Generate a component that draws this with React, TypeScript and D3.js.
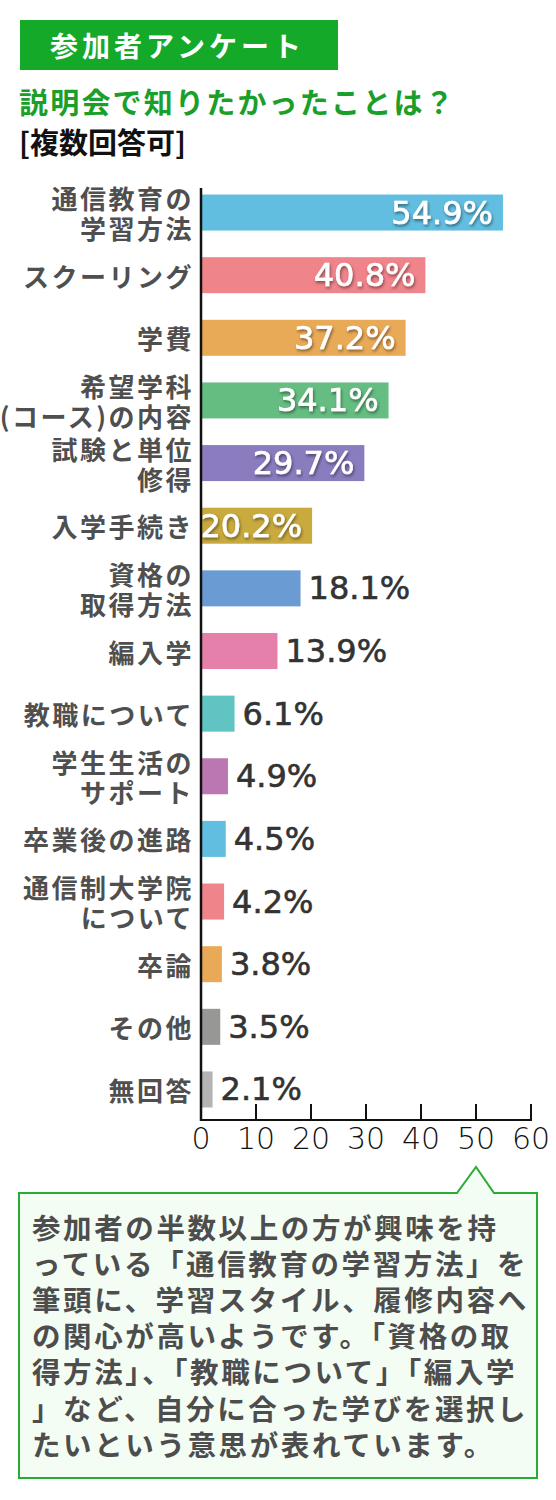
import React from "react";
import { scaleBand, scaleLinear } from "d3";

// survey answers, top to bottom
const categories: string[][] = [
  ["通信教育の", "学習方法"],
  ["スクーリング"],
  ["学費"],
  ["希望学科", "(コース)の内容"],
  ["試験と単位", "修得"],
  ["入学手続き"],
  ["資格の", "取得方法"],
  ["編入学"],
  ["教職について"],
  ["学生生活の", "サポート"],
  ["卒業後の進路"],
  ["通信制大学院", "について"],
  ["卒論"],
  ["その他"],
  ["無回答"],
];
const values = [54.9, 40.8, 37.2, 34.1, 29.7, 20.2, 18.1, 13.9, 6.1, 4.9, 4.5, 4.2, 3.8, 3.5, 2.1];
const colors = [
  "#62bee1", "#f0848b", "#e9aa58", "#65bd82", "#8a7cbe", "#c9aa3f", "#6a9bd3", "#e580aa",
  "#60c4c2", "#ba77b1", "#62bee1", "#f0848b", "#e9aa58", "#979896", "#b4b4b4",
];
const xTicks = [0, 10, 20, 30, 40, 50, 60];

const title = "参加者アンケート";
const question = "説明会で知りたかったことは？";
const note = "[複数回答可]";
const comment = [
  "参加者の半数以上の方が興味を持",
  "っている「通信教育の学習方法」を",
  "筆頭に、学習スタイル、履修内容へ",
  "の関心が高いようです。「資格の取",
  "得方法」、「教職について」「編入学",
  "」など、自分に合った学びを選択し",
  "たいという意思が表れています。",
];

const JP = '"Noto Sans CJK JP", "Noto Sans", sans-serif';
const NUM = '"DejaVu Sans", sans-serif';

export default function App() {
  const width = 556;
  const height = 1500;

  const x = scaleLinear().domain([0, 60]).range([201, 531]);
  const y = scaleBand<number>()
    .domain(values.map((_, i) => i))
    .range([182, 1120])
    .paddingInner(0.425)
    .paddingOuter(0.2);

  const axisTop = 188;
  const axisY = 1120;

  // callout box with pointer under the 50 tick
  const bx0 = 19, bx1 = 537, by0 = 1193, by1 = 1478;
  const px = x(50);
  const calloutPath = `M${bx0},${by0} L${px - 19},${by0} L${px},${1167} L${px + 18},${by0} L${bx1},${by0} L${bx1},${by1} L${bx0},${by1} Z`;

  return (
    <svg
      width={width}
      height={height}
      viewBox={`0 0 ${width} ${height}`}
      style={{ position: "absolute", left: 0, top: 0, background: "#fff" }}
    >
      <defs>
        <filter id="shadow" x="-20%" y="-30%" width="140%" height="170%">
          <feDropShadow dx="1" dy="2" stdDeviation="1.5" floodColor="#000" floodOpacity="0.45" />
        </filter>
      </defs>

      {/* header */}
      <rect x={20} y={20} width={318} height={50} fill="#15a92a" />
      <text x={50} y={45} dominantBaseline="central" fill="#fff" fontFamily={JP} fontWeight={700} fontSize={28} letterSpacing={4}>
        {title}
      </text>
      <text x={19} y={101} dominantBaseline="central" fill="#1a9f2a" fontFamily={JP} fontWeight={700} fontSize={29} letterSpacing={2.2}>
        {question}
      </text>
      <text x={19} y={141} dominantBaseline="central" fill="#111" fontFamily={JP} fontWeight={700} fontSize={29}>
        {note}
      </text>

      {/* bars */}
      {values.map((v, i) => {
        const y0 = y(i)!;
        const bh = y.bandwidth();
        const cy = y0 + bh / 2;
        const inside = v >= 20;
        return (
          <g key={i}>
            <rect x={x(0)} y={y0} width={x(v) - x(0)} height={bh} fill={colors[i]} />
            <text
              x={inside ? x(v) - 10 : x(v) + 8}
              y={cy}
              dominantBaseline="central"
              textAnchor={inside ? "end" : "start"}
              fill={inside ? "#fff" : "#333"}
              stroke={inside ? "#fff" : "#333"}
              strokeWidth={0.6}
              filter={inside ? "url(#shadow)" : undefined}
              fontFamily={NUM}
              fontSize={32}
            >
              {v.toFixed(1)}%
            </text>
            {categories[i].map((line, j) => (
              <text
                key={j}
                x={194}
                y={cy + (j - (categories[i].length - 1) / 2) * 30}
                dominantBaseline="central"
                textAnchor="end"
                fill="#4f4f4f"
                fontFamily={JP}
                fontWeight={700}
                fontSize={26}
                letterSpacing={2.5}
              >
                {line}
              </text>
            ))}
          </g>
        );
      })}

      {/* axes */}
      <line x1={x(0)} x2={x(0)} y1={axisTop} y2={axisY + 1} stroke="#111" strokeWidth={2.5} />
      <line x1={x(0)} x2={x(60) + 1} y1={axisY} y2={axisY} stroke="#111" strokeWidth={2} />
      {xTicks.map((t) => (
        <g key={t}>
          {t > 0 && <line x1={x(t)} x2={x(t)} y1={axisY - 16} y2={axisY} stroke="#111" strokeWidth={2} />}
          <text x={x(t)} y={1138} dominantBaseline="central" textAnchor="middle" fill="#111" fontFamily={NUM} fontWeight={200} fontSize={30}>
            {t}
          </text>
        </g>
      ))}

      {/* comment */}
      <path d={calloutPath} fill="#f4fdf4" stroke="#2aab35" strokeWidth={2} />
      {comment.map((line, i) => (
        <text
          key={i}
          x={32}
          y={1226 + i * 36.2}
          dominantBaseline="central"
          fill="#4d4d4d"
          fontFamily={JP}
          fontWeight={700}
          fontSize={28.5}
          letterSpacing={2.6}
        >
          {line}
        </text>
      ))}
    </svg>
  );
}
